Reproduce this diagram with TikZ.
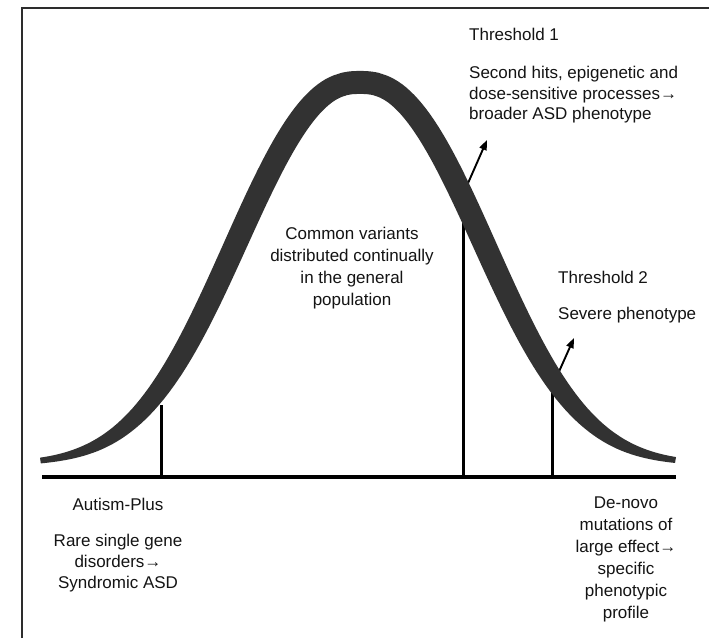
\documentclass[tikz,border=0pt]{standalone}
\usepackage{fontspec}
\setmainfont{Liberation Sans}
\usetikzlibrary{arrows.meta}
\definecolor{bandc}{RGB}{50,50,50}
\definecolor{framec}{RGB}{45,45,45}
\begin{document}
\begin{tikzpicture}[x=1pt,y=-1pt,
  lbl/.style={inner sep=0pt, font=\fontsize{17}{21.5}\selectfont, text=black!92},
  tick/.style={line width=3pt, black},
  ptr/.style={line width=1.9pt, black, -{Triangle[length=10pt,width=7.5pt]}},
  axis/.style={line width=3.2pt, black},
  declare function={
    uu(\d)=pow(abs(\d)/171,2.4);
    hy(\d)=462-391*exp(-uu(\d));
    sl(\d)=391*exp(-uu(\d))*2.4*uu(\d)/\d;
    nl(\d)=sqrt(1+sl(\d)*sl(\d));
    th(\d)=5+18*exp(-pow(abs(\d)/265,6));
  },
]
\useasboundingbox (0,0) rectangle (709,638);
\fill[white] (0,0) rectangle (709,638);
\draw[line width=1.5pt, framec] (22,638) -- (22,8) -- (709,8);

% axis and thresholds (drawn first, the band covers their tops)
\coordinate (axl) at (42,477);
\coordinate (axr) at (676,477);
\draw[axis] (axl) -- (axr);
\coordinate (t0b) at (161,477);
\coordinate (t0t) at (161,405);
\coordinate (t1b) at (463.5,477);
\coordinate (t1t) at (463.5,212);
\coordinate (t2b) at (552,477);
\coordinate (t2t) at (552,392);
\draw[tick] (t0b) -- (t0t);
\draw[tick] (t1b) -- (t1t);
\draw[tick] (t2b) -- (t2t);

% arrows leaving the band
\coordinate (a1s) at (465,190);
\coordinate (a1e) at (487,140);
\coordinate (a2s) at (553,385);
\coordinate (a2e) at (574,338);
\draw[ptr] (a1s) -- (a1e);
\draw[ptr] (a2s) -- (a2e);

% band of the distribution curve
\fill[bandc]
  plot[domain=-320:316, samples=159] ({360+\x},{hy(\x)})
  -- plot[domain=316:-320, samples=159]
     ({360+\x-th(\x)*sl(\x)/nl(\x)},{hy(\x)+th(\x)/nl(\x)})
  -- cycle;

% labels
\node[lbl, anchor=base west] (thr1) at (469,40) {Threshold 1};
\node[lbl, anchor=north west, align=left, font=\fontsize{17}{20.5}\selectfont] (thr1txt) at (469,66)
  {Second hits, epigenetic and\\dose-sensitive processes\textrightarrow\\broader ASD phenotype};
\node[lbl, anchor=base west] (thr2) at (558,283) {Threshold 2};
\node[lbl, anchor=base west] (thr2txt) at (558,319) {Severe phenotype};
\node[lbl, anchor=north, align=center, font=\fontsize{17}{22}\selectfont] (common) at (352,227)
  {Common variants\\distributed continually\\in the general\\population};
\node[lbl, anchor=base] (aplus) at (118,510) {Autism-Plus};
\node[lbl, anchor=north, align=center, font=\fontsize{17}{21}\selectfont] (rare) at (118,534)
  {Rare single gene\\disorders\textrightarrow\\Syndromic ASD};
\node[lbl, anchor=north, align=center, font=\fontsize{17}{22}\selectfont] (denovo) at (626,497)
  {De-novo\\mutations of\\large effect\textrightarrow\\specific\\phenotypic\\profile};
\end{tikzpicture}
\end{document}
